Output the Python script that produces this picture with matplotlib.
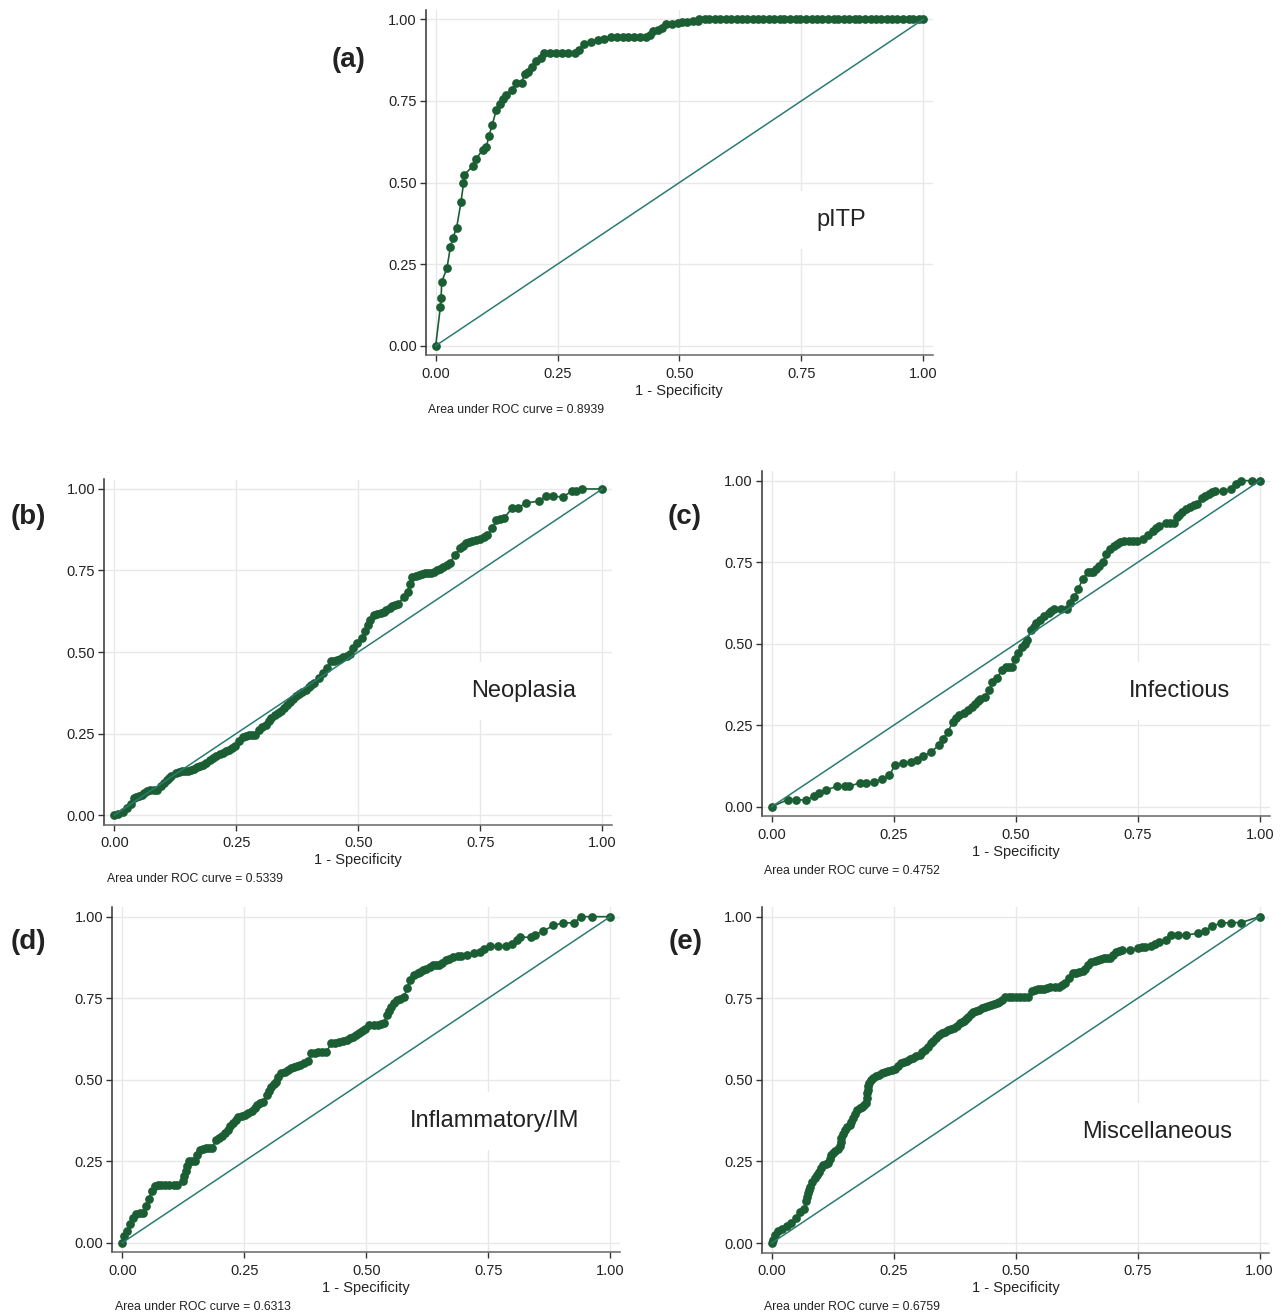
import matplotlib
matplotlib.use("Agg")
import matplotlib.pyplot as plt

plt.rcParams["font.family"] = ["Liberation Sans", "DejaVu Sans"]

FIG_W, FIG_H = 1283, 1313
ROC_COLOR = "#1b5e34"
DIAG_COLOR = "#2b7b72"
GRID_COLOR = "#e8e8e8"

TICKS = [0.0, 0.25, 0.5, 0.75, 1.0]
TICK_LABELS = ["0.00", "0.25", "0.50", "0.75", "1.00"]

# panel (a) pITP
a_x = [0, .0095, .011, .0124, .023, .030, .035, .043, .052, .057, .059, .077, .083, .097, .104,
       .109, .116, .124, .132, .139, .144, .156, .165, .176, .183, .190, .198, .206, .216, .223,
       .235, .247, .259, .271, .285, .293, .304, .318, .333, .345, .360, .372, .384, .395, .406,
       .418, .432, .439, .446, .456, .465, .472, .485, .497, .505, .515, .527, .538, .541, .552,
       .561, .573, .584, .596, .605, .617, .629, .638, .650, .662, .671, .683, .694, .706, .715,
       .727, .739, .748, .760, .771, .783, .792, .804, .816, .825, .837, .848, .860, .869, .881,
       .893, .902, .914, .926, .935, .947, .958, .970, .979, .991, 1.0]
a_y = [0, .118, .146, .196, .237, .301, .329, .362, .441, .497, .524, .552, .573, .601, .609,
       .642, .677, .721, .741, .756, .767, .784, .806, .806, .833, .839, .855, .872, .881, .896,
       .896, .896, .896, .896, .896, .906, .923, .930, .937, .939, .945, .945, .945, .945, .945,
       .945, .945, .952, .964, .968, .972, .985, .987, .988, .993, .993, .994, .995, 1.0, 1.0,
       1.0, 1.0, 1.0, 1.0, 1.0, 1.0, 1.0, 1.0, 1.0, 1.0, 1.0, 1.0, 1.0, 1.0, 1.0,
       1.0, 1.0, 1.0, 1.0, 1.0, 1.0, 1.0, 1.0, 1.0, 1.0, 1.0, 1.0, 1.0, 1.0, 1.0,
       1.0, 1.0, 1.0, 1.0, 1.0, 1.0, 1.0, 1.0, 1.0, 1.0, 1.0]

# panel (b) Neoplasia
b_x = [0, .008, .017, .025, .034, .040, .045, .050, .056, .061, .068, .074, .081, .088, .096,
       .102, .107, .112, .117, .126, .132, .138, .145, .151, .157, .163, .170, .176, .182, .188,
       .197, .203, .209, .216, .222, .228, .235, .241, .247, .255, .264, .270, .276, .283, .289,
       .297, .303, .310, .316, .322, .329, .335, .341, .348, .354, .360, .366, .372, .379, .385,
       .392, .398, .404, .410, .419, .427, .436, .444, .450, .456, .463, .469, .476, .482, .490,
       .498, .507, .513, .519, .525, .532, .539, .546, .552, .557, .564, .570, .576, .582, .593,
       .601, .606, .611, .618, .624, .631, .637, .643, .649, .656, .662, .668, .674, .681, .687,
       .698, .708, .714, .720, .726, .732, .741, .750, .757, .764, .775, .783, .791, .799, .816,
       .827, .844, .871, .884, .898, .919, .938, .946, .959, 1.0]
b_y = [0, .004, .009, .022, .035, .053, .056, .058, .063, .068, .073, .078, .078, .078, .089,
       .099, .109, .114, .119, .129, .132, .135, .135, .135, .139, .142, .146, .150, .155, .160,
       .170, .176, .182, .187, .191, .196, .201, .206, .211, .226, .239, .242, .244, .244, .244,
       .262, .270, .277, .288, .298, .306, .313, .320, .328, .338, .347, .356, .364, .371, .377,
       .385, .392, .399, .405, .420, .435, .451, .471, .473, .474, .479, .484, .489, .494, .512,
       .529, .542, .563, .583, .598, .614, .617, .619, .624, .629, .636, .642, .645, .647, .670,
       .685, .710, .731, .734, .736, .739, .741, .741, .741, .746, .751, .756, .761, .767, .772,
       .797, .818, .826, .833, .837, .840, .844, .848, .853, .858, .879, .904, .908, .912, .942,
       .942, .957, .963, .977, .977, .976, .993, .995, 1.0, 1.0]

# panel (c) Infectious
c_x = [0, .033, .050, .071, .087, .096, .111, .134, .151, .159, .180, .193, .209, .226, .241,
       .253, .269, .285, .298, .310, .327, .342, .351, .361, .371, .378, .384, .394, .403, .410,
       .416, .422, .427, .437, .445, .452, .462, .471, .479, .486, .492, .498, .505, .512, .518,
       .523, .531, .537, .542, .550, .558, .567, .573, .579, .592, .605, .611, .620, .628, .637,
       .647, .653, .659, .665, .670, .679, .685, .693, .701, .708, .714, .722, .731, .740, .748,
       .760, .771, .781, .788, .794, .807, .815, .823, .830, .835, .840, .848, .857, .864, .871,
       .882, .888, .895, .901, .907, .924, .941, .951, .962, .983, 1.0]
c_y = [0, .022, .022, .020, .033, .041, .051, .063, .063, .063, .073, .073, .077, .084, .097,
       .128, .135, .138, .143, .155, .168, .189, .209, .230, .260, .271, .281, .289, .296, .306,
       .316, .323, .329, .337, .357, .383, .396, .418, .429, .429, .429, .454, .472, .490, .500,
       .510, .541, .552, .563, .574, .584, .594, .600, .607, .607, .607, .624, .643, .668, .699,
       .719, .719, .719, .728, .737, .752, .776, .791, .801, .806, .811, .814, .816, .816, .816,
       .821, .832, .847, .855, .862, .869, .869, .869, .888, .896, .903, .912, .920, .925, .929,
       .947, .953, .959, .964, .969, .969, .974, .990, 1.0, 1.0, 1.0]

# panel (d) Inflammatory/IM
d_x = [0, .004, .010, .015, .021, .029, .036, .042, .049, .054, .060, .067, .073, .079, .088,
       .096, .105, .113, .124, .127, .130, .133, .136, .142, .149, .154, .159, .166, .172, .178,
       .184, .192, .198, .205, .211, .216, .221, .226, .232, .238, .245, .251, .258, .266, .271,
       .276, .283, .289, .297, .301, .305, .310, .314, .320, .326, .333, .339, .345, .351, .358,
       .364, .373, .381, .387, .395, .402, .410, .418, .428, .436, .444, .452, .460, .466, .473,
       .479, .485, .492, .498, .506, .515, .523, .530, .536, .542, .547, .551, .557, .562, .570,
       .577, .584, .590, .598, .605, .611, .617, .623, .630, .636, .643, .649, .656, .663, .670,
       .678, .687, .695, .707, .720, .732, .741, .753, .770, .787, .799, .808, .816, .837,
       .845, .862, .883, .904, .925, .941, .962, 1.0]
d_y = [0, .020, .036, .056, .076, .087, .090, .092, .112, .133, .158, .173, .176, .178, .178,
       .178, .178, .178, .189, .204, .219, .235, .250, .250, .250, .268, .285, .288, .291, .291,
       .291, .316, .321, .326, .337, .347, .357, .367, .377, .387, .390, .392, .398, .403, .413,
       .423, .428, .433, .454, .466, .479, .486, .494, .507, .520, .525, .530, .535, .540, .543,
       .545, .550, .556, .581, .583, .584, .584, .584, .612, .614, .617, .620, .622, .627, .632,
       .637, .642, .650, .657, .668, .668, .668, .670, .673, .698, .711, .724, .734, .744, .749,
       .754, .780, .805, .821, .826, .831, .835, .838, .845, .851, .851, .851, .858, .866, .871,
       .877, .878, .879, .882, .889, .892, .900, .909, .909, .909, .917, .929, .937, .937,
       .945, .955, .973, .981, .981, 1.0, 1.0, 1.0]

# panel (e) Miscellaneous
e_x = [0, .002, .006, .013, .021, .032, .040, .049, .057, .066, .070, .072, .074, .076, .078,
       .083, .088, .092, .097, .101, .105, .111, .116, .119, .122, .126, .130, .135, .139, .141,
       .143, .147, .151, .155, .160, .163, .166, .170, .175, .180, .185, .189, .193, .195, .196,
       .197, .197, .200, .203, .208, .214, .220, .227, .233, .239, .246, .252, .258, .265, .271,
       .277, .284, .290, .296, .303, .309, .315, .320, .326, .331, .336, .343, .349, .355, .361,
       .368, .374, .380, .385, .390, .395, .399, .403, .408, .413, .418, .424, .430, .437, .443,
       .450, .455, .461, .466, .471, .479, .486, .492, .500, .508, .517, .525, .534, .540, .546,
       .552, .559, .565, .571, .580, .588, .595, .601, .609, .618, .624, .630, .637, .643, .649,
       .655, .662, .668, .675, .681, .687, .693, .700, .706, .712, .718, .735, .750, .758, .766,
       .777, .786, .794, .807, .819, .832, .850, .874, .887, .903, .920, .941, .962, 1.0]
e_y = [0, .010, .026, .036, .043, .051, .061, .077, .094, .104, .128, .140, .153, .163, .173,
       .186, .199, .209, .219, .230, .240, .243, .245, .258, .270, .276, .281, .289, .296, .309,
       .321, .334, .347, .355, .362, .372, .383, .396, .408, .413, .418, .424, .429, .444, .459,
       .470, .480, .490, .500, .506, .512, .516, .520, .523, .526, .530, .533, .542, .551, .555,
       .559, .563, .566, .572, .577, .585, .592, .602, .612, .620, .628, .636, .643, .648, .653,
       .656, .658, .666, .673, .676, .679, .687, .694, .702, .709, .712, .714, .719, .724, .727,
       .730, .732, .735, .740, .745, .755, .755, .755, .754, .753, .754, .755, .773, .776, .778,
       .778, .778, .782, .786, .786, .786, .791, .796, .811, .827, .828, .829, .834, .839, .851,
       .862, .865, .867, .870, .872, .873, .874, .884, .893, .896, .898, .898, .903, .906, .908,
       .910, .917, .923, .929, .944, .944, .944, .949, .957, .971, .980, .982, .982, 1.0]

panel_tags = ["(a)", "(b)", "(c)", "(d)", "(e)"]
panel_names = ["pITP", "Neoplasia", "Infectious", "Inflammatory/IM", "Miscellaneous"]
auc_values = ["0.8939", "0.5339", "0.4752", "0.6313", "0.6759"]

# axes boxes in pixels: left, top, right, bottom
AX_BOXES = [(425.7, 9.8, 932.8, 355.2),
            (104.3, 479.5, 611.8, 824.5),
            (761.7, 471.2, 1269.5, 816.2),
            (112.3, 907.2, 619.8, 1252.2),
            (761.7, 907.2, 1269.2, 1252.5)]
NAME_POS = [(0.831, 0.385), (0.838, 0.381), (0.836, 0.355), (0.763, 0.373), (0.789, 0.341)]
TAG_POS = [(349, 60), (28, 517), (685, 517), (28, 942), (686, 942)]


def roc_panel(fig, box, xs, ys, name, name_pos, auc):
    l, t, r, b = box
    ax = fig.add_axes([l / FIG_W, 1 - b / FIG_H, (r - l) / FIG_W, (b - t) / FIG_H])
    ax.set_xlim(-0.0205, 1.0195)
    ax.set_ylim(-0.029, 1.029)
    ax.set_xticks(TICKS)
    ax.set_xticklabels(TICK_LABELS)
    ax.set_yticks(TICKS)
    ax.set_yticklabels(TICK_LABELS)
    ax.grid(True, color=GRID_COLOR, linewidth=1.0, zorder=0)
    ax.set_axisbelow(True)
    for s in ["top", "right"]:
        ax.spines[s].set_visible(False)
    ax.spines["left"].set_color("#333333")
    ax.spines["bottom"].set_color("#666666")
    ax.spines["left"].set_linewidth(1.1)
    ax.spines["bottom"].set_linewidth(1.1)
    ax.tick_params(axis="both", direction="out", length=4, width=1, color="#333333",
                   labelsize=10.5, labelcolor="#222222")
    ax.tick_params(axis="x", pad=4.5)
    ax.tick_params(axis="y", pad=2.5)

    ax.plot(xs, ys, color=ROC_COLOR, linewidth=1.2, marker="o", markersize=6.3,
            markeredgewidth=0, zorder=2)
    ax.plot([0, 1], [0, 1], color=DIAG_COLOR, linewidth=1.1, zorder=3)

    ax.text(name_pos[0], name_pos[1], name, fontsize=17, color="#222222", ha="center",
            va="center", zorder=1,
            bbox=dict(boxstyle="square,pad=0.75", facecolor="white", edgecolor="none"))
    ax.set_xlabel("1 - Specificity", fontsize=10.5, color="#222222", labelpad=2)
    ax.annotate(f"Area under ROC curve = {auc}", xy=(0, 0), xycoords="axes fraction",
                xytext=(2, -39.5), textcoords="offset points", fontsize=8.8,
                color="#222222", ha="left", va="center")
    return ax


def main():
    fig = plt.figure(figsize=(FIG_W / 100, FIG_H / 100), dpi=100)
    series = [(a_x, a_y), (b_x, b_y), (c_x, c_y), (d_x, d_y), (e_x, e_y)]
    for i, (xs, ys) in enumerate(series):
        roc_panel(fig, AX_BOXES[i], xs, ys, panel_names[i], NAME_POS[i], auc_values[i])
        tx, ty = TAG_POS[i]
        fig.text(tx / FIG_W, 1 - ty / FIG_H, panel_tags[i], fontsize=20, fontweight="bold",
                 color="#222222", ha="center", va="center")
    fig.savefig("out.png", dpi=100)


if __name__ == "__main__":
    main()
